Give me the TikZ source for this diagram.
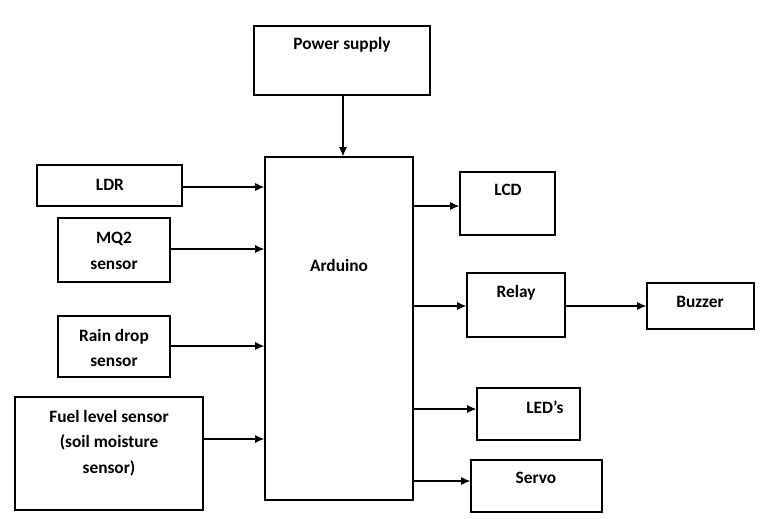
\documentclass[tikz,border=0pt]{standalone}
\usepackage{fontspec}
\setmainfont{Carlito}
\usetikzlibrary{fit,arrows.meta}
\begin{document}
\begin{tikzpicture}[x=0.75pt,y=-0.75pt,
  box/.style={draw,line width=0.8pt,inner sep=0pt},
  lbl/.style={font=\bfseries\fontsize{13}{19}\selectfont,align=center,inner sep=0pt},
  arr/.style={-{Latex[length=7pt,width=6pt]},line width=1.1pt}]
\useasboundingbox (0,0) rectangle (766,518);
\node[box,fit={(254,26)(430,95)}] (ps) {};
\node[lbl] (psl) at (342,45) {Power supply};
\node[box,fit={(265,157)(413,500)}] (ard) {};
\node[lbl] (ardl) at (339,265) {Arduino};
\node[box,fit={(37,165)(182,206)}] (ldr) {};
\node[lbl] (ldrl) at (110,185) {LDR};
\node[box,fit={(58,218)(170,282)}] (mq) {};
\node[lbl] (mql) at (114,251) {MQ2\\sensor};
\node[box,fit={(58,316)(170,377)}] (rain) {};
\node[lbl] (rainl) at (114,348) {Rain drop\\sensor};
\node[box,fit={(15,397)(203,510)}] (fuel) {};
\node[lbl] (fuell) at (109,443) {Fuel level sensor\\(soil moisture\\sensor)};
\node[box,fit={(460,172)(555,235)}] (lcd) {};
\node[lbl] (lcdl) at (508,190) {LCD};
\node[box,fit={(467,273)(565,337)}] (relay) {};
\node[lbl] (relayl) at (516,293) {Relay};
\node[box,fit={(647,283)(754,329)}] (buz) {};
\node[lbl] (buzl) at (700,302) {Buzzer};
\node[box,fit={(477,388)(580,440)}] (led) {};
\node[lbl] (ledl) at (545,407) {LED’s};
\node[box,fit={(471,460)(602,512)}] (servo) {};
\node[lbl] (servol) at (536,478) {Servo};
\draw[arr] ([xshift=0.75pt]ps.south) -- ([xshift=0.75pt]ps.south |- ard.north);
\draw[arr] (ldr.east |- 0,187) -- (ard.west |- 0,187);
\draw[arr] (mq.east |- 0,249) -- (ard.west |- 0,249);
\draw[arr] (rain.east |- 0,346) -- (ard.west |- 0,346);
\draw[arr] (fuel.east |- 0,439) -- (ard.west |- 0,439);
\draw[arr] (ard.east |- 0,206) -- (lcd.west |- 0,206);
\draw[arr] (ard.east |- 0,306) -- (relay.west |- 0,306);
\draw[arr] (relay.east |- 0,306) -- (buz.west |- 0,306);
\draw[arr] (ard.east |- 0,409) -- (led.west |- 0,409);
\draw[arr] (ard.east |- 0,481) -- (servo.west |- 0,481);
\end{tikzpicture}
\end{document}
